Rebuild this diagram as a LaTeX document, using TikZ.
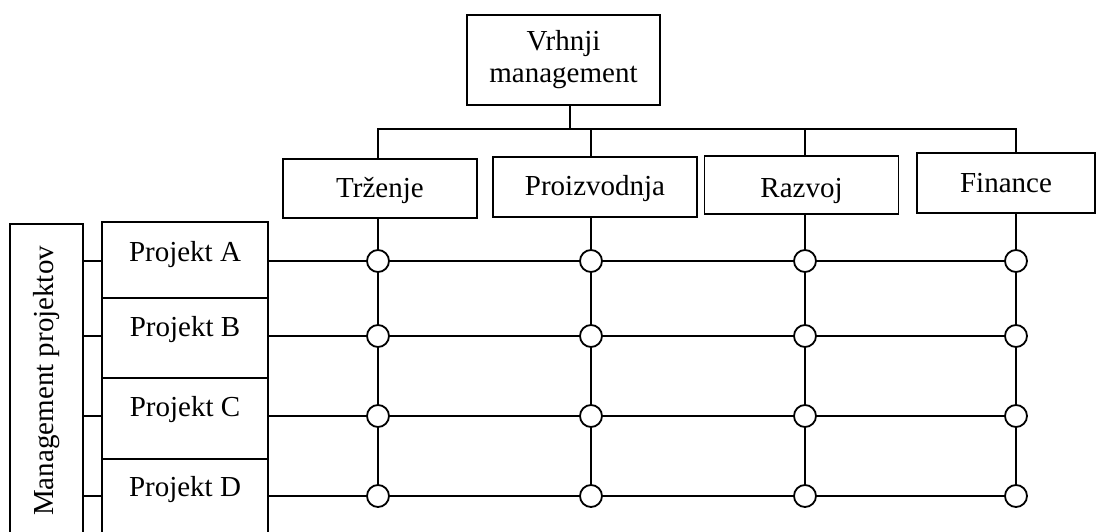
\documentclass[tikz,border=0pt]{standalone}
\usepackage{fontspec}
\setmainfont{Liberation Serif}
\begin{document}
\begin{tikzpicture}[x=1pt, y=-1pt, line width=1.8pt,
  every node/.style={font=\fontsize{29}{32}\selectfont},
  box/.style={draw, rectangle, inner xsep=0pt, inner ysep=0pt, anchor=base},
  joint/.style={draw, circle, fill=white, minimum size=22pt, inner sep=0pt},
]
\useasboundingbox (0,0) rectangle (1098,532);
\clip (0,0) rectangle (1098,532);

% top management
\node[draw, rectangle, align=center, minimum width=193pt, minimum height=90pt, inner sep=0pt]
  (top) at (563.5,60) {Vrhnji\\management};

% functional departments
\node[box, minimum width=194pt, text height=38pt, text depth=21pt] (t1) at (380,197) {Trženje};
\node[box, minimum width=204pt, text height=38pt, text depth=22pt] (t2) at (595,195) {Proizvodnja};
\node[box, minimum width=194pt, text height=41pt, text depth=17pt] (t3) at (801.5,197) {Razvoj};
\node[box, minimum width=178pt, text height=40pt, text depth=20pt] (t4) at (1006,193) {Finance};

% project management column
\node[draw, rectangle, inner sep=0pt, minimum width=73pt, minimum height=314pt, anchor=north west,
  label={[rotate=90]center:Management projektov}] (m) at (9,223) {};

% projects
\node[box, minimum width=166pt, text height=39pt, text depth=37pt] (p1) at (185,261) {Projekt A};
\node[box, minimum width=166pt, text height=38pt, text depth=42pt] (p2) at (185,336) {Projekt B};
\node[box, minimum width=166pt, text height=38pt, text depth=43pt] (p3) at (185,416) {Projekt C};
\node[box, minimum width=166pt, text height=37pt, text depth=41pt] (p4) at (185,496) {Projekt D};

% matrix joints
\foreach \i/\y in {1/261,2/336,3/416,4/496}
  \foreach \j/\x in {1/378,2/591,3/805,4/1016}
    \node[joint] (c\i\j) at (\x,\y) {};

% bus from top management to departments
\coordinate (bus) at (570,129);
\draw (bus |- top.south) -- (bus);
\foreach \j in {1,...,4}
  \draw (bus) -| (t\j.north -| c1\j);

% department columns
\foreach \j in {1,...,4}
  \draw (t\j.south -| c1\j) -- (c1\j) -- (c2\j) -- (c3\j) -- (c4\j);

% project rows and links to project management
\foreach \i in {1,...,4} {
  \draw (p\i.east |- c\i1) -- (c\i1) -- (c\i2) -- (c\i3) -- (c\i4);
  \draw (m.east |- c\i1) -- (p\i.west |- c\i1);
}
\end{tikzpicture}
\end{document}
